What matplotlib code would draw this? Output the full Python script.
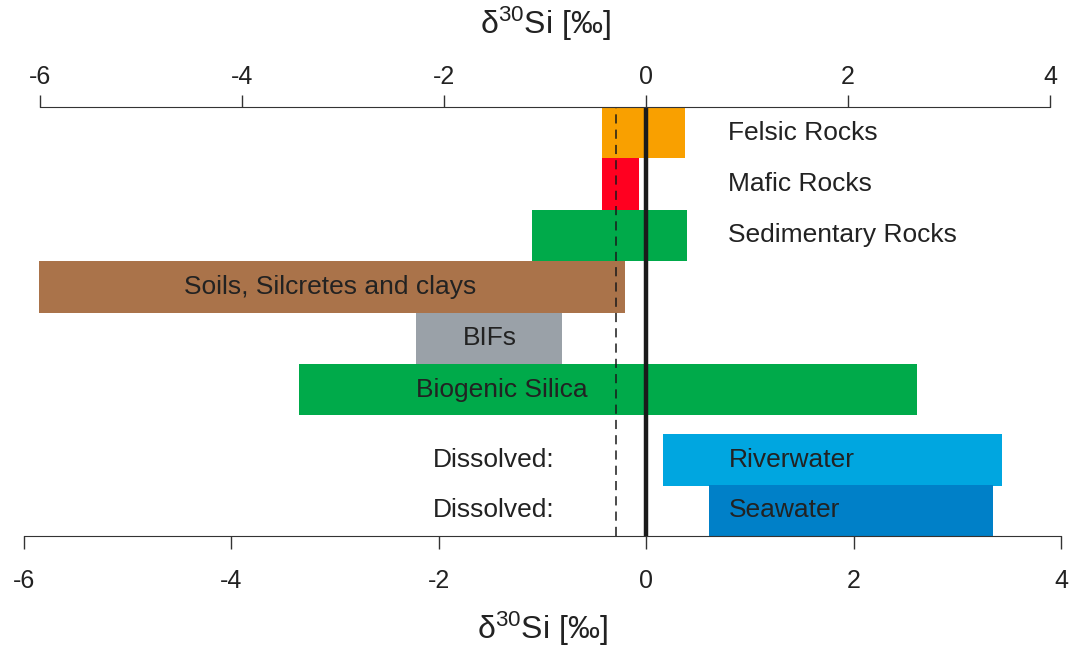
import matplotlib
matplotlib.use("Agg")
import matplotlib.pyplot as plt
import numpy as np

plt.rcParams['font.family'] = ['Liberation Sans', 'DejaVu Sans']
plt.rcParams['mathtext.default'] = 'regular'

# delta30Si ranges (permil)
names = ["Felsic Rocks", "Mafic Rocks", "Sedimentary Rocks",
         "Soils, Silcretes and clays", "BIFs", "Biogenic Silica",
         "Riverwater", "Seawater"]
low = [-0.43, -0.43, -1.10, -5.86, -2.22, -3.35, 0.16, 0.61]
high = [0.37, -0.07, 0.39, -0.20, -0.81, 2.61, 3.43, 3.34]
colors = ["#F9A000", "#FF0020", "#00AA4A", "#AA734A", "#9AA1A8",
          "#00AA4A", "#00A6E0", "#0080C8"]
dashed_ref = -0.29
ticks = [-6, -4, -2, 0, 2, 4]
axis_label = r"δ$^{30}$Si [‰]"

fig = plt.figure(figsize=(10.7, 6.52), dpi=100)
W, H = 1070, 652
ax = fig.add_axes([24 / W, 1 - 536 / H, (1061 - 24) / W, (536 - 107) / H])

# row layout: gap before the dissolved rows
rows = np.arange(len(names)) + 0.5
rows[6:] += 0.37
rows[7] -= 0.02

widths = np.array(high) - np.array(low)
ax.barh(rows, widths, left=low, height=1.0, color=colors, zorder=1)

ax.axvline(0, color="#1a1a1a", lw=3.2, zorder=3)
ax.axvline(dashed_ref, color="#1a1a1a", lw=1.1, ls=(0, (6, 4)), zorder=3)

ax.set_xlim(-6, 4)
ax.set_ylim(rows[-1] + 0.5, 0)

fs = 19
tc = "#222222"
# labels right of the zero line
for i in [0, 1, 2]:
    ax.text(0.79, rows[i], names[i], ha="left", va="center", fontsize=fs, color=tc)
ax.text(-3.05, rows[3], names[3], ha="center", va="center", fontsize=fs, color=tc)
ax.text(-1.51, rows[4], names[4], ha="center", va="center", fontsize=fs, color=tc)
ax.text(-1.39, rows[5], names[5], ha="center", va="center", fontsize=fs, color=tc)
for i in [6, 7]:
    ax.text(0.8, rows[i], names[i], ha="left", va="center", fontsize=fs, color=tc)
    ax.text(-0.88, rows[i], "Dissolved:", ha="right", va="center", fontsize=fs, color=tc)

for s in ["left", "right", "top"]:
    ax.spines[s].set_visible(False)
ax.spines["bottom"].set_color("#333333")
ax.set_yticks([])
ax.set_xticks(ticks)
ax.set_xticklabels([str(t) for t in ticks])
ax.tick_params(axis="x", direction="out", length=9, width=1, color="#333333",
               labelsize=18, pad=15, labelcolor=tc)
ax.set_xlabel(axis_label, fontsize=23, color=tc, labelpad=12)

# top axis (drawn slightly narrower in the original)
ax2 = fig.add_axes([40 / W, 1 - 536 / H, (1050 - 40) / W, (536 - 107) / H])
ax2.patch.set_alpha(0)
for s in ["left", "right", "bottom"]:
    ax2.spines[s].set_visible(False)
ax2.spines["top"].set_color("#333333")
ax2.set_xlim(-6, 4)
ax2.set_yticks([])
ax2.xaxis.set_ticks_position("top")
ax2.xaxis.set_label_position("top")
ax2.set_xticks(ticks)
ax2.set_xticklabels([str(t) for t in ticks])
ax2.tick_params(axis="x", direction="out", length=9, width=1, color="#333333",
                labelsize=18, pad=4, labelcolor=tc)
ax2.set_xlabel(axis_label, fontsize=23, color=tc, labelpad=22)

fig.savefig("out.png", dpi=100)
